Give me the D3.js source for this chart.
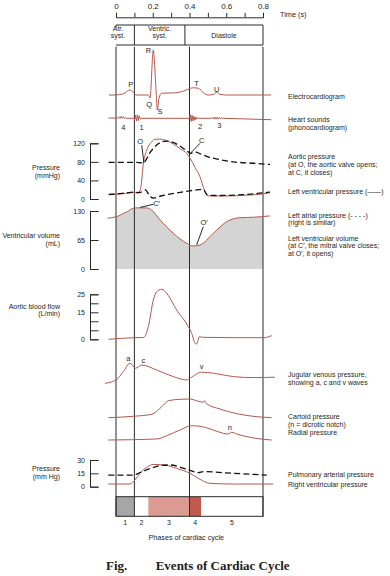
<!DOCTYPE html>
<html><head><meta charset="utf-8">
<script src="https://cdn.jsdelivr.net/npm/d3@7/dist/d3.min.js"></script>
<style>
html,body{margin:0;padding:0;background:#fff;}
svg{display:block;}
text{font-family:"Liberation Sans",Arial,Helvetica,sans-serif;}
</style></head>
<body><svg id="c" width="390" height="576"></svg>
<script>
// ---------------- DATA ----------------
const timeTicks = [0,0.1,0.2,0.3,0.4,0.5,0.6,0.7,0.8];
const timeLabels = [0,0.2,0.4,0.6,0.8];
const cycleLines = [0,0.1,0.4,0.8];
const headerBounds = [0,0.1,0.375,0.8];
const headerNames = [["Atr.","syst."],["Ventric.","syst."],["Diastole"]];

// ECG [t (s), mV]
const ecg = [[-0.038,0],[-0.005,0],[0.033,0.02],[0.049,0.045],[0.062,0.09],[0.071,0.11],[0.083,0.1],[0.094,0.06],[0.105,0.01],[0.113,0],[0.176,0],[0.185,-0.07],[0.203,1.0],[0.216,0.26],[0.225,-0.33],[0.234,-0.07],[0.249,0.04],[0.303,0.045],[0.348,0.065],[0.376,0.1],[0.405,0.15],[0.421,0.16],[0.448,0.15],[0.475,0.05],[0.502,0],[0.53,0.01],[0.54,0.04],[0.548,0.06],[0.557,0.04],[0.566,0.015],[0.6,0],[0.844,0]];
const ecgMarks = [["P",0.08,0.24],["Q",0.18,-0.21],["R",0.176,1.0],["S",0.239,-0.37],["T",0.439,0.26],["U",0.548,0.127]];

// Phonocardiogram [t, amplitude]
const heartSounds = [[-0.04,0.3],[0.008,0.2],[0.015,1.4],[0.021,-0.2],[0.028,1.8],[0.034,0],[0.04,1.6],[0.046,-0.3],[0.052,0.8],[0.058,0],[0.098,0],[0.102,-1.5],[0.107,3],[0.112,-2.8],[0.117,3.5],[0.122,-2.2],[0.127,2.5],[0.132,-0.8],[0.137,0],[0.4,0],[0.404,3.5],[0.409,-3],[0.414,3],[0.419,-2.6],[0.424,2],[0.429,-1.8],[0.434,1.3],[0.439,-1],[0.444,0.6],[0.45,0],[0.52,0],[0.527,1],[0.533,-0.8],[0.539,1.1],[0.545,-0.8],[0.551,1.1],[0.557,-0.8],[0.563,1],[0.569,-0.6],[0.576,0.5],[0.586,0],[0.845,-1.4]];
const soundMarks = [["4",0.04,-9.4],["1",0.139,-9.4],["2",0.457,-8.4],["3",0.562,-6.7]];

// Pressures (mmHg)
const aorticP = [[-0.04,79],[0.0,79],[0.1,79],[0.14,78],[0.149,77],[0.16,82],[0.18,97],[0.203,109],[0.23,119],[0.258,124],[0.28,124.5],[0.31,122],[0.34,116],[0.37,108],[0.395,101],[0.405,98],[0.42,100.5],[0.435,101],[0.46,97],[0.5,91],[0.53,88],[0.638,80],[0.75,77],[0.838,74.5]];
const lvP = [[-0.04,9],[0.0,10],[0.05,12],[0.094,14],[0.125,15],[0.135,25],[0.149,77],[0.167,105],[0.194,123],[0.212,128.5],[0.235,129],[0.258,128],[0.285,124],[0.312,118.5],[0.35,108],[0.385,98],[0.403,88],[0.43,68],[0.457,48],[0.48,20],[0.494,8.6],[0.51,6.5],[0.6,6.5],[0.7,8],[0.8,11],[0.838,13.6]];
const laP = [[-0.04,10],[0.0,11],[0.05,13],[0.1,15],[0.115,13.5],[0.135,14.5],[0.16,19.5],[0.175,12],[0.19,4],[0.205,2],[0.25,7],[0.3,11],[0.35,14.5],[0.4,17.5],[0.45,20],[0.475,21],[0.49,12],[0.5,8],[0.55,7.5],[0.65,8.5],[0.75,11],[0.838,15]];
const pressureTicks = [0,40,80,120];
const pressureMarks = [["O",0.131,125],["C",0.466,127]];
const pressurePointers = [[[0.14,116],[0.152,78]],[[0.457,120],[0.408,99.7]]];

// Ventricular volume (mL)
const lvVolume = [[-0.046,114],[0,117],[0.058,128],[0.103,137],[0.167,137],[0.194,132],[0.24,110],[0.312,80],[0.385,57.6],[0.421,51.5],[0.457,53.8],[0.53,80],[0.602,106],[0.675,115],[0.747,116],[0.838,119]];
const volumeTicks = [0,65,130];
const volumeMarks = [["C\u2032",0.221,147],["O\u2032",0.479,104]];
const volumePointers = [[[0.203,145],[0.131,138]],[[0.475,95],[0.439,54]]];

// Aortic blood flow (L/min)
const aorticFlow = [[-0.04,0],[0.1,0.9],[0.149,1],[0.176,7],[0.203,21.8],[0.221,26.4],[0.249,27.8],[0.276,25.5],[0.33,16.3],[0.394,7],[0.412,3.3],[0.43,-2.2],[0.439,-2.6],[0.453,1.4],[0.475,1.1],[0.638,0.9],[0.8,0.9],[0.848,2]];
const flowTicks = [0,5,10,15,20,25];
const flowLabels = [0,15,25];

// Jugular venous, carotid, radial (relative units)
const jugular = [[-0.06,0.35],[0,2],[0.04,6.2],[0.076,10.4],[0.107,7.9],[0.14,9.5],[0.221,7],[0.312,3.7],[0.385,2],[0.403,2.9],[0.466,5.9],[0.53,5.4],[0.638,3.7],[0.747,3.2],[0.865,3.4]];
const jugularMarks = [["a",0.067,12.85],["c",0.149,11.65],["v",0.466,8.65]];
const carotid = [[-0.042,0.15],[0.094,0.85],[0.194,1.85],[0.249,5.65],[0.285,8.65],[0.348,9.35],[0.399,9.5],[0.457,8.15],[0.475,7.85],[0.483,8.65],[0.49,7.35],[0.566,4.5],[0.675,1.85],[0.784,0.5],[0.847,0.15]];
const radial = [[-0.042,0.5],[0.221,1],[0.276,2.65],[0.348,5.5],[0.412,7.65],[0.457,7.35],[0.53,5.5],[0.584,3.85],[0.611,3.5],[0.63,4.35],[0.657,3.5],[0.729,1.85],[0.802,0.85],[0.847,0.5]];
const radialMarks = [["n",0.62,6.65]];

// Pulmonary arterial and right ventricular pressure (mmHg)
const pulmonaryP = [[-0.042,13.1],[0.094,13.1],[0.13,15.8],[0.18,20],[0.24,23.6],[0.294,24.4],[0.385,19.5],[0.448,15.8],[0.475,16.9],[0.638,15],[0.82,13.1]];
const rvP = [[-0.042,3],[0.076,3],[0.103,7.5],[0.13,15],[0.167,21.8],[0.203,25],[0.258,24.6],[0.33,20.6],[0.403,15],[0.457,8.3],[0.511,3.8],[0.638,3],[0.856,3]];
const pulmTicks = [0,15,30];

// Phases of cardiac cycle
const phases = [[1,0,0.1],[2,0.1,0.176],[3,0.176,0.4],[4,0.4,0.4626],[5,0.4626,0.8]];
const phaseColors = ["#a6a6a6","#ffffff","#dc9b92","#c25a4b","#ffffff"];

// ---------------- DRAWING ----------------
const RED = "#b5584c", INK = "#2a2a2a", TXT = "#1e1e1e";
const FS = 7;
const svg = d3.select("#c");
svg.append("rect").attr("width",390).attr("height",576).attr("fill","#fff");

const x = d3.scaleLinear().domain([0,0.8]).range([116,263]);
const yECG = d3.scaleLinear().domain([0,1]).range([95,50]);
const yHS = d3.scaleLinear().domain([0,1]).range([118.3,117.3]);
const yP = d3.scaleLinear().domain([0,120]).range([199,143.3]);
const yV = d3.scaleLinear().domain([0,130]).range([269,211]);
const yF = d3.scaleLinear().domain([0,25]).range([339.3,294.3]);
const yJ = d3.scaleLinear().domain([0,10]).range([384,364]);
const yC = d3.scaleLinear().domain([0,10]).range([418,398]);
const yR = d3.scaleLinear().domain([0,10]).range([441,421]);
const yPul = d3.scaleLinear().domain([0,30]).range([486.7,460]);

function txt(s, xx, yy, fs, anchor){
  return svg.append("text").attr("x",xx).attr("y",yy).attr("font-size",fs)
    .attr("text-anchor",anchor||"start").attr("fill",TXT).text(s);
}

// top time axis
const ta = svg.append("g").attr("transform","translate(0,17.3)")
  .call(d3.axisTop(x).tickValues(timeTicks).tickSize(4.5).tickSizeOuter(4.5).tickPadding(3.5)
    .tickFormat(d => timeLabels.some(v => Math.abs(v-d)<1e-9) ? d3.format("")(+d.toFixed(1)) : ""));
ta.attr("font-size",8).attr("font-family",null);
ta.selectAll("path,line").attr("stroke",INK).attr("stroke-width",1);
ta.selectAll("text").attr("fill",TXT);
txt("Time (s)",280,16.5,7.3);

// header boxes
const hb = svg.append("g").attr("stroke",INK).attr("stroke-width",1).attr("fill","none");
hb.append("line").attr("x1",x(0)).attr("x2",x(0.8)).attr("y1",25).attr("y2",25);
hb.append("line").attr("x1",x(0)).attr("x2",x(0.8)).attr("y1",45).attr("y2",45);
hb.append("line").attr("x1",x(0)).attr("x2",x(0)).attr("y1",25).attr("y2",27.5);
headerBounds.slice(1).forEach(b => hb.append("line").attr("x1",x(b)).attr("x2",x(b)).attr("y1",25).attr("y2",45));
const headerX = [x(0.011), (x(0.1)+x(0.375))/2, (x(0.375)+x(0.8))/2];
headerNames.forEach((lines,i) => {
  lines.forEach((s,j) => {
    const yy = lines.length===1 ? 38 : 31 + j*6.6;
    txt(s, headerX[i], yy, 7, "middle");
  });
});

// gray volume area (behind lines)
svg.append("clipPath").attr("id","clipT").append("rect").attr("x",x(0)).attr("y",0).attr("width",x(0.8)-x(0)).attr("height",576);
svg.append("path").datum(lvVolume).attr("clip-path","url(#clipT)").attr("fill","#d4d4d4")
  .attr("d", d3.area().x(d=>x(d[0])).y0(yV(0)).y1(d=>yV(d[1])).curve(d3.curveMonotoneX));

// phase bar fills
phases.forEach((p,i) => {
  svg.append("rect").attr("x",x(p[1])).attr("width",x(p[2])-x(p[1])).attr("y",496.7).attr("height",19.6).attr("fill",phaseColors[i]);
  txt(p[0], (x(p[1])+x(p[2]))/2, 525, FS, "middle");
});
svg.append("rect").attr("x",x(0)).attr("width",x(0.8)-x(0)).attr("y",496.7).attr("height",19.6).attr("fill","none").attr("stroke",INK);
txt("Phases of cardiac cycle",186.3,539.5,7.2,"middle");

// vertical cycle lines
cycleLines.forEach(t => svg.append("line").attr("x1",x(t)).attr("x2",x(t)).attr("y1",46.7).attr("y2",516.3).attr("stroke",INK).attr("stroke-width",1));

// left axes
function leftAxis(scale, ticks, labels){
  const g = svg.append("g").attr("transform","translate(90,0)")
    .call(d3.axisRight(scale).tickValues(ticks).tickSize(8.5).tickSizeOuter(8.5)
      .tickFormat(d => labels.includes(d) ? d : ""));
  g.attr("font-size",7).attr("font-family",null);
  g.selectAll("path,line").attr("stroke",INK).attr("stroke-width",1);
  g.selectAll("text").attr("x",-5).attr("text-anchor","end").attr("fill",TXT);
}
leftAxis(yP, pressureTicks, pressureTicks);
leftAxis(yV, volumeTicks, volumeTicks);
leftAxis(yF, flowTicks, flowLabels);
leftAxis(yPul, pulmTicks, pulmTicks);

// curves
function curve(data, ys, opts={}){
  const ln = d3.line().x(d=>x(d[0])).y(d=>ys(d[1])).curve(opts.linear ? d3.curveLinear : d3.curveMonotoneX);
  svg.append("path").datum(data).attr("d",ln).attr("fill","none")
    .attr("stroke", opts.dash ? "#111" : RED)
    .attr("stroke-width", opts.dash ? 1.3 : 1)
    .attr("stroke-dasharray", opts.dash ? "6,3.2" : null)
    .attr("stroke-linejoin","round");
}
curve(ecg, yECG);
curve(heartSounds, yHS, {linear:true});
curve(lvP, yP);
curve(aorticP, yP, {dash:true});
curve(laP, yP, {dash:true});
curve(lvVolume, yV);
curve(aorticFlow, yF);
curve(jugular, yJ);
curve(carotid, yC);
curve(radial, yR);
curve(rvP, yPul);
curve(pulmonaryP, yPul, {dash:true});

// annotation letters and pointers
function marks(list, ys, fs){
  list.forEach(m => txt(m[0], x(m[1]), ys(m[2]), fs||7.5, "middle").attr("dy","0.35em"));
}
function pointers(list, ys){
  list.forEach(p => svg.append("line").attr("x1",x(p[0][0])).attr("y1",ys(p[0][1]))
    .attr("x2",x(p[1][0])).attr("y2",ys(p[1][1])).attr("stroke","#111").attr("stroke-width",0.9));
}
marks(ecgMarks, yECG);
marks(soundMarks, yHS);
marks(pressureMarks, yP);
pointers(pressurePointers, yP);
marks(volumeMarks, yV);
pointers(volumePointers, yV);
marks(jugularMarks, yJ);
marks(radialMarks, yR);

// left titles (right aligned)
const leftTitles = [["Pressure",167.6],["(mmHg)",175.4],["Ventricular volume",236],["(mL)",243.8],
  ["Aortic blood flow",306.2],["(L/min)",314],["Pressure",468.5],["(mm Hg)",476.3]];
leftTitles.forEach(l => txt(l[0],60,l[1],FS,"end").attr("dy","0.35em"));

// right legend texts
const rightTitles = [["Electrocardiogram",97],["Heart sounds",119.3],["(phonocardiogram)",127.1],
  ["Aortic pressure",156.6],["(at O, the aortic valve opens;",164.4],["at C, it closes)",172.2],
  ["Left ventricular pressure (\u2014\u2014)",191.7],
  ["Left atrial pressure (- - - -)",215.1],["(right is similar)",222.9],
  ["Left ventricular volume",238.2],["(at C\u2032, the mitral valve closes;",246],["at O\u2032, it opens)",253.8],
  ["Jugular venous pressure,",374.5],["showing a, c and v waves",382.3],
  ["Cartoid pressure",416.5],["(n = dicrotic notch)",424.3],["Radial pressure",432.1],
  ["Pulmonary arterial pressure",475],["Right ventricular pressure",485]];
rightTitles.forEach(l => txt(l[0],288,l[1],FS,"start").attr("dy","0.35em"));

// figure caption
const SERIF = '"Liberation Serif","Times New Roman",Times,serif';
txt("Fig.",106,570,13).style("font-family",SERIF).attr("font-weight","bold");
txt("Events of Cardiac Cycle",155.7,570,13).style("font-family",SERIF).attr("font-weight","bold");
</script></body></html>
